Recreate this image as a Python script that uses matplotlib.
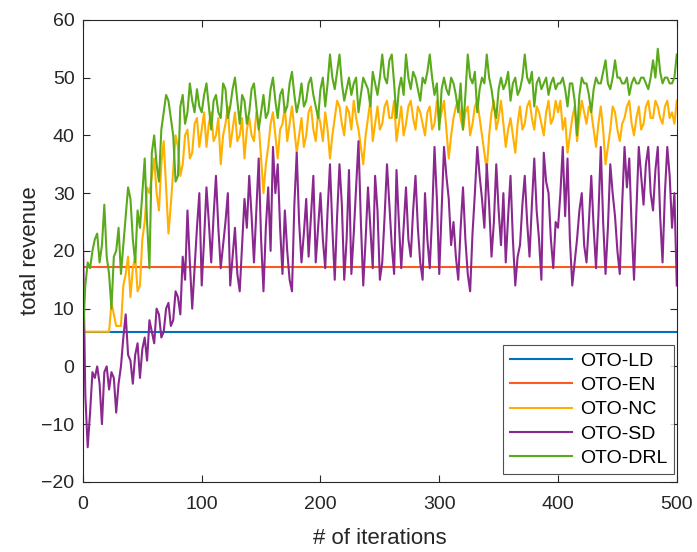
import matplotlib
matplotlib.use("Agg")
import matplotlib.pyplot as plt
import numpy as np

# iteration index (every 2nd iteration)
iters = np.arange(0, 501, 2)

# flat baselines
ld_level = 5.9
en_level = 17.2

# OTO-NC
nc = [6, 6, 6, 6, 6, 6, 6, 6, 6, 6, 6, 6, 11, 9, 7, 7, 7, 14, 16, 19,
      12, 17, 19, 13, 14, 22, 25, 31, 30, 33, 36, 30, 27, 35, 39, 31, 23, 28, 34, 40,
      38, 33, 35, 40, 41, 36, 37, 42, 43, 38, 41,
      44, 38, 42, 44, 39, 40, 43, 35, 40, 42, 45, 38, 41, 44, 39, 40, 43, 36, 41, 43,
      40, 39, 44, 42, 36, 30, 35, 38, 42, 44, 40, 36, 41, 42, 45, 39, 42, 45, 41, 37,
      40, 43, 38, 40, 44, 45, 41, 39, 44, 42,
      39, 44, 41, 36, 40, 43, 46, 45, 42, 40, 45, 44, 41, 46, 43, 41, 38, 35, 40, 43,
      46, 39, 42, 45, 41, 42, 45, 46, 43, 43, 46, 39, 42, 45, 40, 42, 45, 46, 43, 41,
      45, 44, 42, 40, 44, 45, 41, 42, 46, 42,
      44, 46, 41, 36, 40, 43, 45, 46, 43, 41, 44, 45, 40, 42, 45, 46, 43, 40, 37, 34,
      40, 44, 46, 41, 43, 46, 42, 38, 41, 43, 40, 37, 42, 45, 41, 42, 45, 46, 43, 41,
      45, 44, 42, 40, 44, 46, 42, 43, 46, 44,
      46, 41, 43, 37, 40, 43, 45, 39, 43, 46, 44, 42, 45, 44, 41, 38, 42, 45, 41, 35,
      38, 41, 45, 44, 41, 39, 42, 43, 45, 46, 42, 40, 43, 45, 41, 42, 45, 46, 43, 43,
      46, 45, 43, 42, 45, 46, 43, 44, 42, 46]

# OTO-SD
sd = [22, -5, -14, -8, -1, -2, 0, -3, -10, -1, 0, -4, -1, -2, -8, -3, 0, 5, 9, 2,
      1, -3, 2, 4, -2, 3, 5, 1, 8, 6, 4, 10, 9, 5, 6, 10, 11, 7, 8, 13,
      12, 9, 19, 15, 27, 18, 10, 17, 24, 30, 14,
      22, 31, 25, 18, 26, 33, 24, 17, 21, 25, 30, 14, 19, 24, 16, 13, 21, 29, 24, 33,
      26, 18, 27, 36, 22, 13, 24, 31, 20, 38, 30, 35, 24, 16, 27, 20, 15, 13, 28, 37,
      25, 18, 23, 29, 19, 26, 33, 18, 24, 30,
      22, 17, 27, 35, 24, 15, 26, 35, 28, 15, 22, 34, 16, 23, 31, 39, 25, 14, 22, 31,
      24, 17, 33, 27, 15, 18, 26, 35, 28, 21, 16, 34, 25, 17, 24, 31, 22, 19, 27, 33,
      24, 18, 15, 30, 22, 17, 26, 38, 29, 16,
      27, 38, 33, 29, 21, 25, 19, 15, 24, 31, 22, 16, 13, 23, 30, 38, 33, 29, 24, 35,
      28, 19, 25, 35, 27, 21, 30, 18, 26, 33, 22, 14, 19, 21, 28, 33, 25, 19, 28, 36,
      27, 22, 15, 37, 32, 30, 22, 17, 25, 24,
      30, 38, 26, 36, 22, 14, 18, 22, 27, 30, 21, 18, 25, 33, 24, 17, 26, 38, 25, 16,
      24, 35, 30, 26, 20, 16, 28, 38, 31, 36, 24, 15, 27, 38, 33, 28, 35, 38, 30, 27,
      34, 38, 26, 18, 30, 38, 33, 24, 30, 14]

# OTO-DRL
drl = [5, 14, 18, 17, 20, 22, 23, 18, 21, 28, 19, 16, 10, 19, 20, 24, 16, 21, 26, 31,
       29, 22, 18, 27, 24, 30, 36, 25, 17, 37, 40, 35, 32, 41, 44, 47, 46, 43, 40, 32,
       33, 45, 47, 42, 44, 49, 46, 44, 48, 45, 44,
       47, 49, 45, 41, 46, 47, 44, 43, 49, 48, 43, 45, 48, 50, 46, 42, 47, 46, 42, 44,
       48, 49, 45, 41, 44, 47, 43, 44, 48, 50, 46, 43, 47, 48, 44, 45, 49, 51, 47, 44,
       46, 49, 45, 46, 49, 50, 47, 45, 43, 48,
       50, 45, 49, 54, 50, 48, 51, 54, 49, 46, 48, 50, 47, 49, 50, 44, 47, 50, 49, 48,
       45, 51, 49, 47, 50, 54, 50, 49, 53, 54, 49, 43, 48, 50, 47, 54, 50, 48, 51, 50,
       48, 46, 50, 49, 51, 54, 50, 47, 49, 41,
       48, 50, 48, 47, 50, 49, 47, 44, 49, 41, 47, 54, 50, 49, 51, 44, 48, 50, 49, 54,
       50, 48, 45, 43, 48, 50, 48, 49, 51, 46, 49, 50, 47, 48, 50, 54, 50, 49, 51, 45,
       49, 50, 48, 49, 50, 47, 49, 50, 48, 49,
       49, 50, 48, 45, 49, 49, 46, 40, 47, 50, 49, 49, 47, 44, 48, 50, 49, 49, 51, 53,
       49, 48, 50, 53, 50, 50, 49, 49, 50, 47, 49, 50, 49, 49, 50, 50, 49, 48, 50, 53,
       50, 55, 51, 49, 50, 50, 49, 49, 50, 54]

labels = ['OTO-LD', 'OTO-EN', 'OTO-NC', 'OTO-SD', 'OTO-DRL']
colors = ['#0072BD', '#FF5A1E', '#FFB000', '#8A288F', '#5AAA1C']

plt.rcParams['font.family'] = ['Liberation Sans', 'DejaVu Sans']

fig = plt.figure(figsize=(6.97, 5.52), dpi=100)
ax = fig.add_axes([0.119, 0.127, 0.852, 0.837])

lw = 1.5
ax.plot(iters, np.full(len(iters), ld_level), color=colors[0], lw=lw, label=labels[0])
ax.plot(iters, np.full(len(iters), en_level), color=colors[1], lw=lw, label=labels[1])
ax.plot(iters, nc, color=colors[2], lw=lw, label=labels[2])
ax.plot(iters, sd, color=colors[3], lw=lw, label=labels[3])
ax.plot(iters, drl, color=colors[4], lw=lw, label=labels[4])

ax.set_xlim(0, 500)
ax.set_ylim(-20, 60)
ax.set_xticks(range(0, 501, 100))
ax.set_yticks(range(-20, 61, 10))
ax.tick_params(direction='in', top=True, right=True, labelsize=14, length=5,
               width=0.8, colors='#262626')
ax.tick_params(axis='x', pad=10)
ax.tick_params(axis='y', pad=6)
for s in ax.spines.values():
    s.set_color('#262626')
    s.set_linewidth(0.8)

ax.set_xlabel('# of iterations', fontsize=16, color='#262626', labelpad=11)
ax.set_ylabel('total revenue', fontsize=16, color='#262626', labelpad=0)

leg = ax.legend(loc='lower right', bbox_to_anchor=(0.996, 0.017), fontsize=14,
                frameon=True, fancybox=False, edgecolor='#262626', handlelength=3.2,
                borderaxespad=0, labelspacing=0.35, handletextpad=0.4, borderpad=0.35)
leg.get_frame().set_linewidth(0.8)

fig.savefig('out.png', dpi=100)
